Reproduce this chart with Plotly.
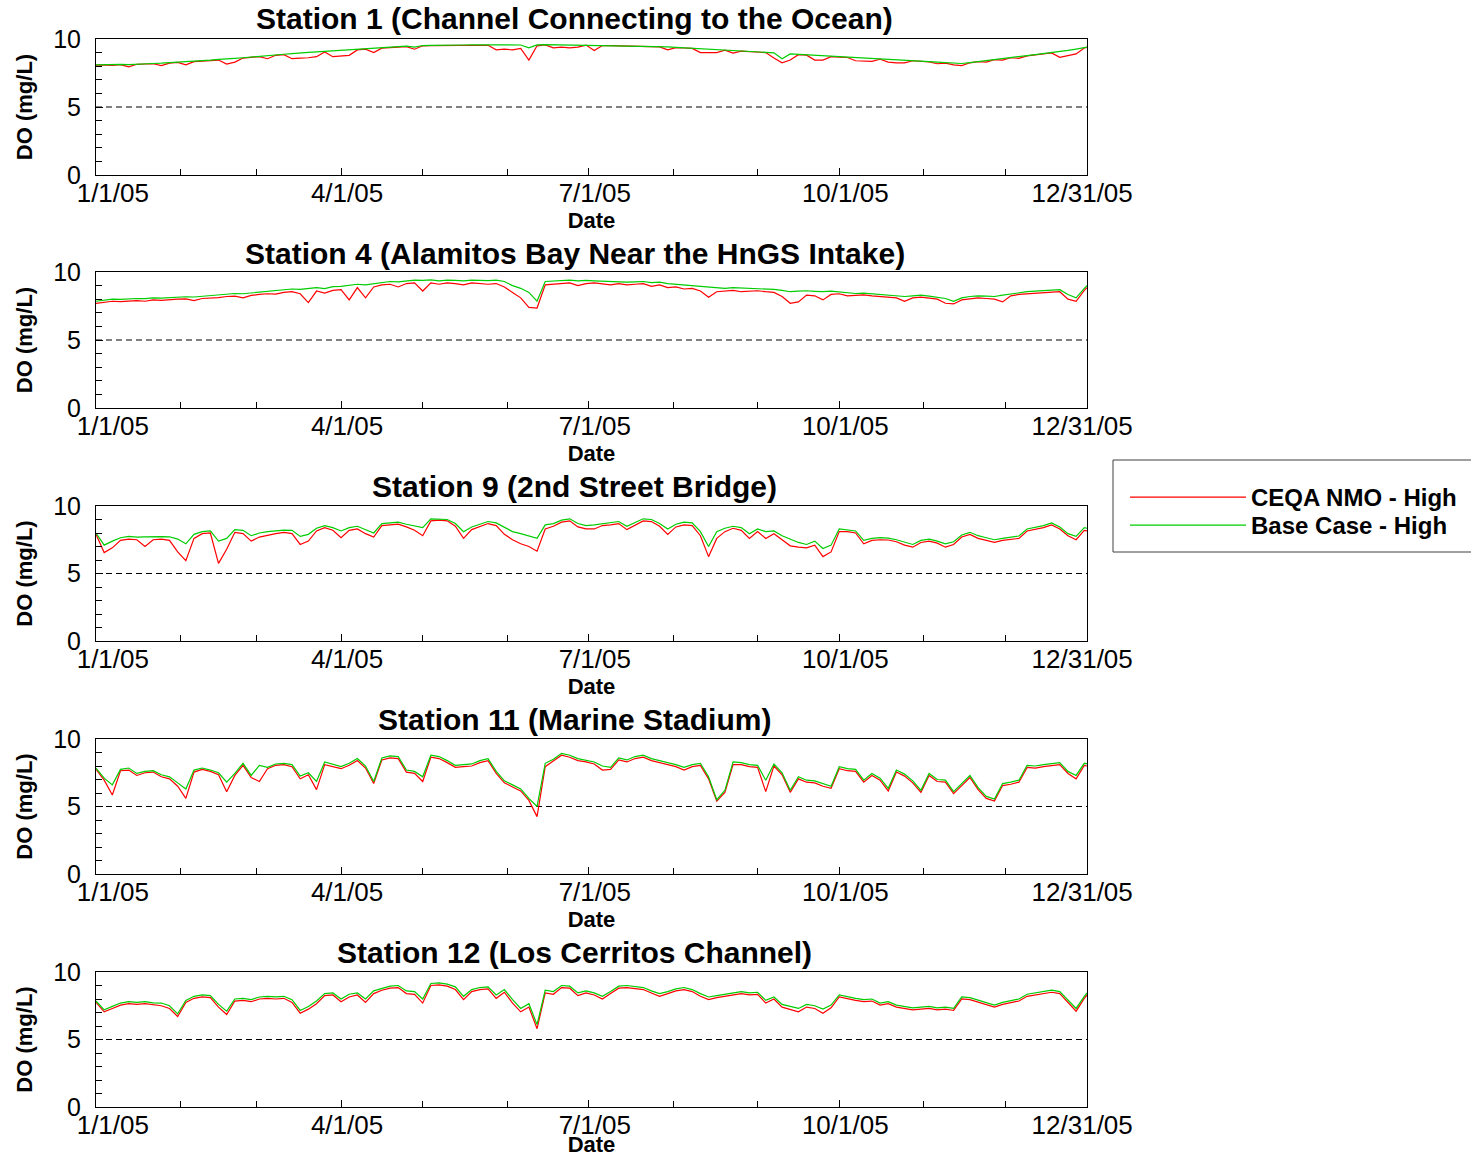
import plotly.graph_objects as go
import pandas as pd

# ---------------- data ----------------
days = list(range(0, 364, 3)) + [364]
dates = [(pd.Timestamp("2005-01-01") + pd.Timedelta(days=d)).strftime("%Y-%m-%d") for d in days]

station_titles = [
    "Station 1 (Channel Connecting to the Ocean)",
    "Station 4 (Alamitos Bay Near the HnGS Intake)",
    "Station 9 (2nd Street Bridge)",
    "Station 11 (Marine Stadium)",
    "Station 12 (Los Cerritos Channel)",
]
series_names = ["CEQA NMO - High", "Base Case - High"]
x_tickvals = ["2005-01-01", "2005-04-01", "2005-07-01", "2005-10-01", "2005-12-31"]
x_ticktext = ["\u00a0\u00a0\u00a01/1/05", "4/1/05", "7/1/05", "10/1/05", "12/31/05\u00a0\u00a0\u00a0"]
y_tickvals = [0, 5, 10]
y_ticktext = ["0", "5", "10"]
do_threshold = 5

s1_base = [8.10, 8.12, 8.10, 8.13, 8.12, 8.16, 8.18, 8.20, 8.22, 8.25,
           8.30, 8.32, 8.35, 8.40, 8.44, 8.50, 8.52, 8.58, 8.62, 8.68,
           8.75, 8.78, 8.83, 8.88, 8.93, 9.00, 9.02, 9.06, 9.10, 9.12,
           9.15, 9.20, 9.24, 9.28, 9.32, 9.36, 9.40, 9.44, 9.47, 9.40,
           9.52, 9.53, 9.55, 9.55, 9.56, 9.56, 9.57, 9.57, 9.57, 9.56,
           9.57, 9.57, 9.56, 9.35, 9.57, 9.58, 9.57, 9.57, 9.58, 9.57,
           9.57, 9.56, 9.55, 9.54, 9.53, 9.52, 9.50, 9.48, 9.46, 9.44,
           9.42, 9.39, 9.36, 9.33, 9.30, 9.28, 9.24, 9.20, 9.17, 9.13,
           9.10, 9.06, 9.02, 8.98, 8.55, 8.90, 8.87, 8.83, 8.80, 8.76,
           8.72, 8.69, 8.66, 8.62, 8.59, 8.55, 8.53, 8.50, 8.47, 8.45,
           8.42, 8.38, 8.34, 8.30, 8.25, 8.22, 8.20, 8.27, 8.35, 8.42,
           8.50, 8.57, 8.64, 8.71, 8.78, 8.85, 8.92, 9.00, 9.08, 9.16,
           9.26, 9.36, 9.40]
s1_ceqa = [8.08, 8.10, 8.06, 8.11, 7.95, 8.14, 8.16, 8.18, 8.05, 8.23,
           8.28, 8.10, 8.33, 8.38, 8.40, 8.45, 8.15, 8.30, 8.60, 8.66,
           8.70, 8.55, 8.80, 8.85, 8.55, 8.60, 8.62, 8.70, 9.05, 8.70,
           8.75, 8.80, 9.20, 9.25, 9.00, 9.33, 9.37, 9.40, 9.44, 9.25,
           9.50, 9.51, 9.52, 9.53, 9.54, 9.54, 9.55, 9.55, 9.54, 9.20,
           9.25, 9.20, 9.30, 8.45, 9.50, 9.56, 9.35, 9.40, 9.35, 9.40,
           9.55, 9.15, 9.52, 9.52, 9.51, 9.50, 9.48, 9.46, 9.44, 9.42,
           9.20, 9.37, 9.34, 9.31, 9.00, 8.98, 9.00, 9.18, 8.97, 9.11,
           9.08, 9.04, 9.00, 8.60, 8.25, 8.45, 8.85, 8.81, 8.45, 8.45,
           8.70, 8.67, 8.64, 8.40, 8.40, 8.35, 8.51, 8.30, 8.25, 8.25,
           8.40, 8.36, 8.32, 8.18, 8.23, 8.10, 8.05, 8.25, 8.33, 8.30,
           8.48, 8.45, 8.62, 8.58, 8.76, 8.83, 8.90, 8.98, 8.65, 8.80,
           8.90, 9.34, 9.38]

s4_base = [7.85, 7.95, 8.00, 7.98, 8.02, 8.05, 8.04, 8.10, 8.08, 8.12,
           8.15, 8.18, 8.16, 8.22, 8.25, 8.30, 8.38, 8.42, 8.40, 8.45,
           8.55, 8.60, 8.62, 8.70, 8.75, 8.72, 8.80, 8.85, 8.78, 8.92,
           8.95, 9.05, 9.10, 9.05, 9.15, 9.25, 9.30, 9.28, 9.35, 9.40,
           9.38, 9.42, 9.35, 9.40, 9.38, 9.35, 9.40, 9.38, 9.36, 9.40,
           9.30, 9.00, 8.80, 8.50, 7.85, 9.30, 9.35, 9.38, 9.40, 9.35,
           9.38, 9.35, 9.32, 9.28, 9.30, 9.25, 9.28, 9.30, 9.22, 9.25,
           9.15, 9.10, 9.05, 9.00, 8.95, 8.90, 8.85, 8.80, 8.85, 8.82,
           8.78, 8.80, 8.75, 8.72, 8.65, 8.55, 8.60, 8.62, 8.58, 8.55,
           8.60, 8.55, 8.45, 8.42, 8.45, 8.40, 8.35, 8.30, 8.28, 8.20,
           8.25, 8.30, 8.22, 8.15, 8.05, 7.85, 8.10, 8.20, 8.25, 8.22,
           8.20, 8.30, 8.40, 8.50, 8.55, 8.60, 8.65, 8.68, 8.70, 8.35,
           8.10, 8.80, 9.00]
s4_ceqa = [7.70, 7.80, 7.85, 7.82, 7.88, 7.90, 7.85, 7.95, 7.92, 7.98,
           8.00, 8.02, 7.90, 8.05, 8.08, 8.12, 8.20, 8.22, 8.10, 8.28,
           8.35, 8.40, 8.38, 8.50, 8.55, 8.40, 7.75, 8.60, 8.45, 8.65,
           8.70, 7.95, 8.85, 8.10, 8.90, 9.05, 9.10, 8.90, 9.15, 9.20,
           8.60, 9.20, 9.10, 9.20, 9.15, 9.05, 9.20, 9.15, 9.10, 9.15,
           8.90, 8.50, 8.10, 7.40, 7.35, 9.05, 9.10, 9.15, 9.20, 9.00,
           9.15, 9.20, 9.10, 9.05, 9.15, 9.05, 9.10, 9.15, 8.95, 9.05,
           8.85, 8.90, 8.75, 8.80, 8.60, 8.15, 8.55, 8.60, 8.65, 8.55,
           8.60, 8.62, 8.55, 8.50, 8.20, 7.70, 7.80, 8.30, 8.25, 7.95,
           8.35, 8.40, 8.25, 8.30, 8.32, 8.25, 8.20, 8.15, 8.10, 7.85,
           8.10, 8.15, 8.05, 8.00, 7.70, 7.65, 7.95, 8.05, 8.10, 8.05,
           8.00, 7.80, 8.25, 8.35, 8.40, 8.45, 8.50, 8.55, 8.55, 8.00,
           7.85, 8.65, 8.85]

s9_base = [8.00, 7.10, 7.40, 7.65, 7.75, 7.70, 7.72, 7.75, 7.73, 7.72,
           7.55, 7.20, 7.90, 8.10, 8.15, 7.40, 7.60, 8.25, 8.20, 7.80,
           8.00, 8.10, 8.15, 8.22, 8.20, 7.75, 7.90, 8.35, 8.55, 8.40,
           8.15, 8.40, 8.50, 8.25, 8.00, 8.70, 8.75, 8.80, 8.65, 8.55,
           8.40, 9.05, 9.05, 9.00, 8.70, 8.10, 8.45, 8.65, 8.85, 8.75,
           8.40, 8.10, 7.95, 7.80, 7.60, 8.60, 8.70, 8.95, 9.05, 8.70,
           8.55, 8.60, 8.70, 8.75, 8.85, 8.50, 8.75, 9.05, 9.00, 8.70,
           8.30, 8.65, 8.80, 8.75, 8.10, 7.00, 8.10, 8.35, 8.50, 8.40,
           7.95, 8.30, 8.10, 8.15, 7.80, 7.55, 7.30, 7.15, 7.40, 6.85,
           7.10, 8.30, 8.25, 8.15, 7.45, 7.60, 7.65, 7.62, 7.50, 7.30,
           7.15, 7.45, 7.55, 7.40, 7.20, 7.35, 7.85, 8.05, 7.80, 7.65,
           7.50, 7.60, 7.70, 7.78, 8.30, 8.40, 8.55, 8.75, 8.45, 7.95,
           7.75, 8.40, 8.35]
s9_ceqa = [7.90, 6.55, 6.90, 7.45, 7.55, 7.50, 7.00, 7.50, 7.55, 7.45,
           6.60, 5.95, 7.60, 7.95, 8.00, 5.75, 6.80, 8.05, 7.95, 7.40,
           7.70, 7.85, 7.95, 8.05, 7.95, 7.15, 7.40, 8.15, 8.40, 8.20,
           7.65, 8.20, 8.30, 7.95, 7.70, 8.55, 8.60, 8.65, 8.45, 8.20,
           7.80, 8.90, 8.95, 8.90, 8.50, 7.60, 8.25, 8.50, 8.70, 8.55,
           7.90, 7.50, 7.20, 7.00, 6.65, 8.30, 8.50, 8.80, 8.90, 8.45,
           8.30, 8.30, 8.55, 8.60, 8.70, 8.25, 8.60, 8.90, 8.85, 8.50,
           7.90, 8.45, 8.60, 8.55, 7.80, 6.25, 7.60, 8.10, 8.35, 8.20,
           7.60, 8.10, 7.60, 7.95, 7.50, 7.05, 6.95, 6.90, 7.10, 6.25,
           6.60, 8.10, 8.10, 8.00, 7.20, 7.45, 7.50, 7.48, 7.35, 7.10,
           6.95, 7.30, 7.40, 7.25, 6.95, 7.15, 7.70, 7.90, 7.60, 7.45,
           7.30, 7.45, 7.55, 7.60, 8.15, 8.25, 8.40, 8.60, 8.30, 7.80,
           7.50, 8.20, 8.15]

s11_base = [7.85, 7.10, 6.60, 7.75, 7.85, 7.45, 7.60, 7.65, 7.35, 7.20,
            6.75, 6.30, 7.70, 7.85, 7.70, 7.50, 6.80, 7.45, 8.20, 7.30,
            8.05, 7.90, 8.15, 8.20, 8.10, 7.25, 7.50, 6.85, 8.30, 8.10,
            7.95, 8.20, 8.55, 8.00, 6.85, 8.60, 8.75, 8.70, 7.70, 7.60,
            7.20, 8.80, 8.70, 8.40, 8.05, 8.10, 8.15, 8.40, 8.55, 7.60,
            6.90, 6.60, 6.30, 5.60, 5.00, 8.20, 8.50, 8.94, 8.80, 8.55,
            8.45, 8.30, 8.00, 7.90, 8.60, 8.45, 8.70, 8.80, 8.55, 8.40,
            8.30, 8.10, 7.90, 8.10, 8.20, 7.20, 5.50, 6.20, 8.30, 8.25,
            8.10, 8.05, 6.95, 8.15, 7.50, 6.20, 7.20, 6.95, 6.90, 6.70,
            6.50, 7.95, 7.80, 7.75, 6.95, 7.45, 7.10, 6.35, 7.70, 7.40,
            6.90, 6.20, 7.45, 7.00, 6.95, 6.10, 6.70, 7.30, 6.40, 5.75,
            5.55, 6.70, 6.80, 6.95, 8.05, 8.00, 8.10, 8.15, 8.25, 7.60,
            7.30, 8.20, 8.15]
s11_ceqa = [7.75, 6.95, 5.85, 7.65, 7.70, 7.30, 7.50, 7.55, 7.20, 7.05,
            6.50, 5.60, 7.55, 7.75, 7.60, 7.35, 6.10, 7.30, 8.05, 7.15,
            6.85, 7.80, 8.05, 8.10, 7.95, 7.05, 7.35, 6.25, 8.10, 7.95,
            7.80, 8.05, 8.40, 7.85, 6.70, 8.45, 8.60, 8.55, 7.55, 7.45,
            6.85, 8.65, 8.55, 8.25, 7.90, 7.95, 8.00, 8.25, 8.40, 7.45,
            6.75, 6.45, 6.15, 5.45, 4.25, 7.95, 8.35, 8.80, 8.65, 8.40,
            8.30, 8.15, 7.70, 7.75, 8.45, 8.30, 8.55, 8.65, 8.40, 8.25,
            8.15, 7.95, 7.70, 7.95, 8.05, 7.05, 5.40, 6.05, 8.10, 8.10,
            7.95, 7.90, 6.10, 8.00, 7.35, 6.05, 7.05, 6.80, 6.75, 6.50,
            6.35, 7.80, 7.65, 7.60, 6.80, 7.30, 6.95, 6.15, 7.55, 7.25,
            6.75, 6.05, 7.30, 6.85, 6.80, 5.95, 6.55, 7.15, 6.25, 5.60,
            5.40, 6.55, 6.65, 6.80, 7.90, 7.85, 7.95, 8.00, 8.10, 7.45,
            7.05, 8.05, 8.00]

s12_base = [7.85, 7.20, 7.45, 7.70, 7.80, 7.75, 7.80, 7.72, 7.70, 7.50,
            6.90, 7.90, 8.20, 8.30, 8.25, 7.60, 7.10, 8.00, 8.05, 7.95,
            8.15, 8.20, 8.15, 8.20, 7.95, 7.15, 7.45, 7.85, 8.40, 8.45,
            8.00, 8.35, 8.45, 8.00, 8.60, 8.80, 8.95, 9.00, 8.60, 8.55,
            8.00, 9.15, 9.20, 9.10, 8.90, 8.20, 8.70, 8.85, 8.90, 8.30,
            8.70, 7.95, 7.30, 7.65, 6.10, 8.65, 8.55, 9.00, 8.95, 8.45,
            8.60, 8.45, 8.20, 8.55, 8.95, 9.00, 8.95, 8.85, 8.60, 8.40,
            8.55, 8.75, 8.85, 8.70, 8.40, 8.15, 8.25, 8.35, 8.50, 8.55,
            8.45, 8.50, 7.90, 8.15, 7.60, 7.45, 7.30, 7.60, 7.50, 7.25,
            7.55, 8.30, 8.15, 8.05, 7.95, 8.00, 7.70, 7.80, 7.55, 7.45,
            7.35, 7.40, 7.45, 7.35, 7.40, 7.30, 8.15, 8.10, 7.90, 7.70,
            7.55, 7.75, 7.90, 8.00, 8.35, 8.45, 8.60, 8.65, 8.55, 7.90,
            7.30, 8.20, 8.45]
s12_ceqa = [7.75, 7.05, 7.30, 7.55, 7.65, 7.60, 7.65, 7.55, 7.50, 7.30,
            6.70, 7.75, 8.05, 8.15, 8.10, 7.40, 6.85, 7.85, 7.90, 7.80,
            8.00, 8.05, 8.00, 8.05, 7.75, 6.95, 7.25, 7.65, 8.25, 8.30,
            7.80, 8.15, 8.30, 7.75, 8.40, 8.65, 8.80, 8.85, 8.40, 8.35,
            7.70, 9.00, 9.05, 8.95, 8.70, 7.95, 8.55, 8.70, 8.75, 8.05,
            8.50, 7.70, 7.05, 7.40, 5.80, 8.45, 8.35, 8.85, 8.80, 8.25,
            8.45, 8.30, 8.00, 8.40, 8.80, 8.85, 8.80, 8.70, 8.45, 8.20,
            8.40, 8.60, 8.70, 8.55, 8.20, 7.95, 8.10, 8.20, 8.35, 8.40,
            8.30, 8.35, 7.70, 8.00, 7.40, 7.25, 7.05, 7.40, 7.30, 6.95,
            7.35, 8.15, 8.00, 7.90, 7.80, 7.85, 7.55, 7.65, 7.40, 7.30,
            7.20, 7.25, 7.30, 7.20, 7.25, 7.15, 8.00, 7.95, 7.75, 7.55,
            7.40, 7.60, 7.75, 7.85, 8.20, 8.30, 8.45, 8.50, 8.40, 7.75,
            7.10, 8.05, 8.30]

ceqa_series = [s1_ceqa, s4_ceqa, s9_ceqa, s11_ceqa, s12_ceqa]
base_series = [s1_base, s4_base, s9_base, s11_base, s12_base]

# ---------------- layout geometry (pixels) ----------------
W, H = 1471, 1157
X_LEFT, X_RIGHT = 96, 1087
PANEL_TOPS = [39, 272, 506, 739, 972]
PANEL_BOTTOMS = [175, 408, 641, 874, 1107]
TITLE_Y = [19, 253, 486, 719, 952]
TITLE_X = 574.5

FONT = "Liberation Sans, Arial, Helvetica, sans-serif"
RED = "#ff0000"
GREEN = "#00cc00"

fig = go.Figure()
leg_common = dict(
    x=1125 / W, xanchor="left", yanchor="top",
    bgcolor="rgba(0,0,0,0)", borderwidth=0,
    font=dict(family=FONT, size=24, color="black", weight="bold"),
    itemwidth=116, tracegroupgap=0,
)
layout = dict(
    width=W, height=H,
    margin=dict(l=0, r=0, t=0, b=0),
    paper_bgcolor="white", plot_bgcolor="white",
    font=dict(family=FONT, color="black", size=24),
    showlegend=True,
    legend=dict(y=1 - 475 / H, **leg_common),
    legend2=dict(y=1 - 503 / H, **leg_common),
    shapes=[], annotations=[],
)

for i in range(5):
    n = "" if i == 0 else str(i + 1)
    xa, ya = "x" + n, "y" + n
    fig.add_trace(go.Scatter(
        x=dates, y=ceqa_series[i], mode="lines", name=series_names[0],
        line=dict(color=RED, width=1.2), xaxis=xa, yaxis=ya,
        legend="legend", legendgroup="ceqa", showlegend=(i == 0)))
    fig.add_trace(go.Scatter(
        x=dates, y=base_series[i], mode="lines", name=series_names[1],
        line=dict(color=GREEN, width=1.2), xaxis=xa, yaxis=ya,
        legend="legend2", legendgroup="base", showlegend=(i == 0)))

    ydom = [1 - PANEL_BOTTOMS[i] / H, 1 - PANEL_TOPS[i] / H]
    layout["xaxis" + n] = dict(
        domain=[X_LEFT / W, X_RIGHT / W], anchor=ya, type="date",
        range=["2005-01-01", "2005-12-31"],
        tickmode="array", tickvals=x_tickvals, ticktext=x_ticktext,
        ticks="inside", ticklen=7, tickwidth=1, tickcolor="black",
        minor=dict(ticks="inside", ticklen=6, tickwidth=1, tickcolor="black",
                   dtick="M1", tick0="2005-01-01", showgrid=False),
        showline=True, linecolor="black", linewidth=1, mirror=True,
        showgrid=False, zeroline=False, automargin=False,
        tickfont=dict(size=26, family=FONT), ticklabelshift=6,
        ticklabelstandoff=-5,
        title=dict(text="Date", standoff=0,
                   font=dict(size=22, family=FONT, weight="bold")),
    )
    layout["yaxis" + n] = dict(
        domain=ydom, anchor=xa, range=[0, 10],
        tickmode="array", tickvals=y_tickvals, ticktext=y_ticktext,
        ticks="inside", ticklen=7, tickwidth=1, tickcolor="black",
        minor=dict(ticks="inside", ticklen=6, tickwidth=1, tickcolor="black",
                   dtick=1, showgrid=False),
        showline=True, linecolor="black", linewidth=1, mirror=True,
        showgrid=False, zeroline=False, automargin=False,
        tickfont=dict(size=25, family=FONT), ticklabelstandoff=9,
        title=dict(text="DO (mg/L)", standoff=14,
                   font=dict(size=22, family=FONT, weight="bold")),
    )
    layout["shapes"].append(dict(
        type="line", xref=xa + " domain", yref=ya, x0=0, x1=1,
        y0=do_threshold, y1=do_threshold,
        line=dict(color="black", width=1, dash="6px,4px"), layer="below"))
    layout["annotations"].append(dict(
        text=station_titles[i], x=TITLE_X / W, y=1 - TITLE_Y[i] / H,
        xref="paper", yref="paper", xanchor="center", yanchor="middle",
        showarrow=False, font=dict(size=30, family=FONT, weight="bold")))

# legend frame
layout["shapes"].append(dict(
    type="rect", xref="paper", yref="paper",
    x0=1113 / W, x1=1.02, y0=1 - 552 / H, y1=1 - 460 / H,
    line=dict(color="#404040", width=1), fillcolor="rgba(0,0,0,0)"))

fig.update_layout(**layout)
fig.write_html(
    "out.html",
    config={"displayModeBar": False},
    post_script="document.body.style.margin='0';document.body.style.overflow='hidden';",
)
